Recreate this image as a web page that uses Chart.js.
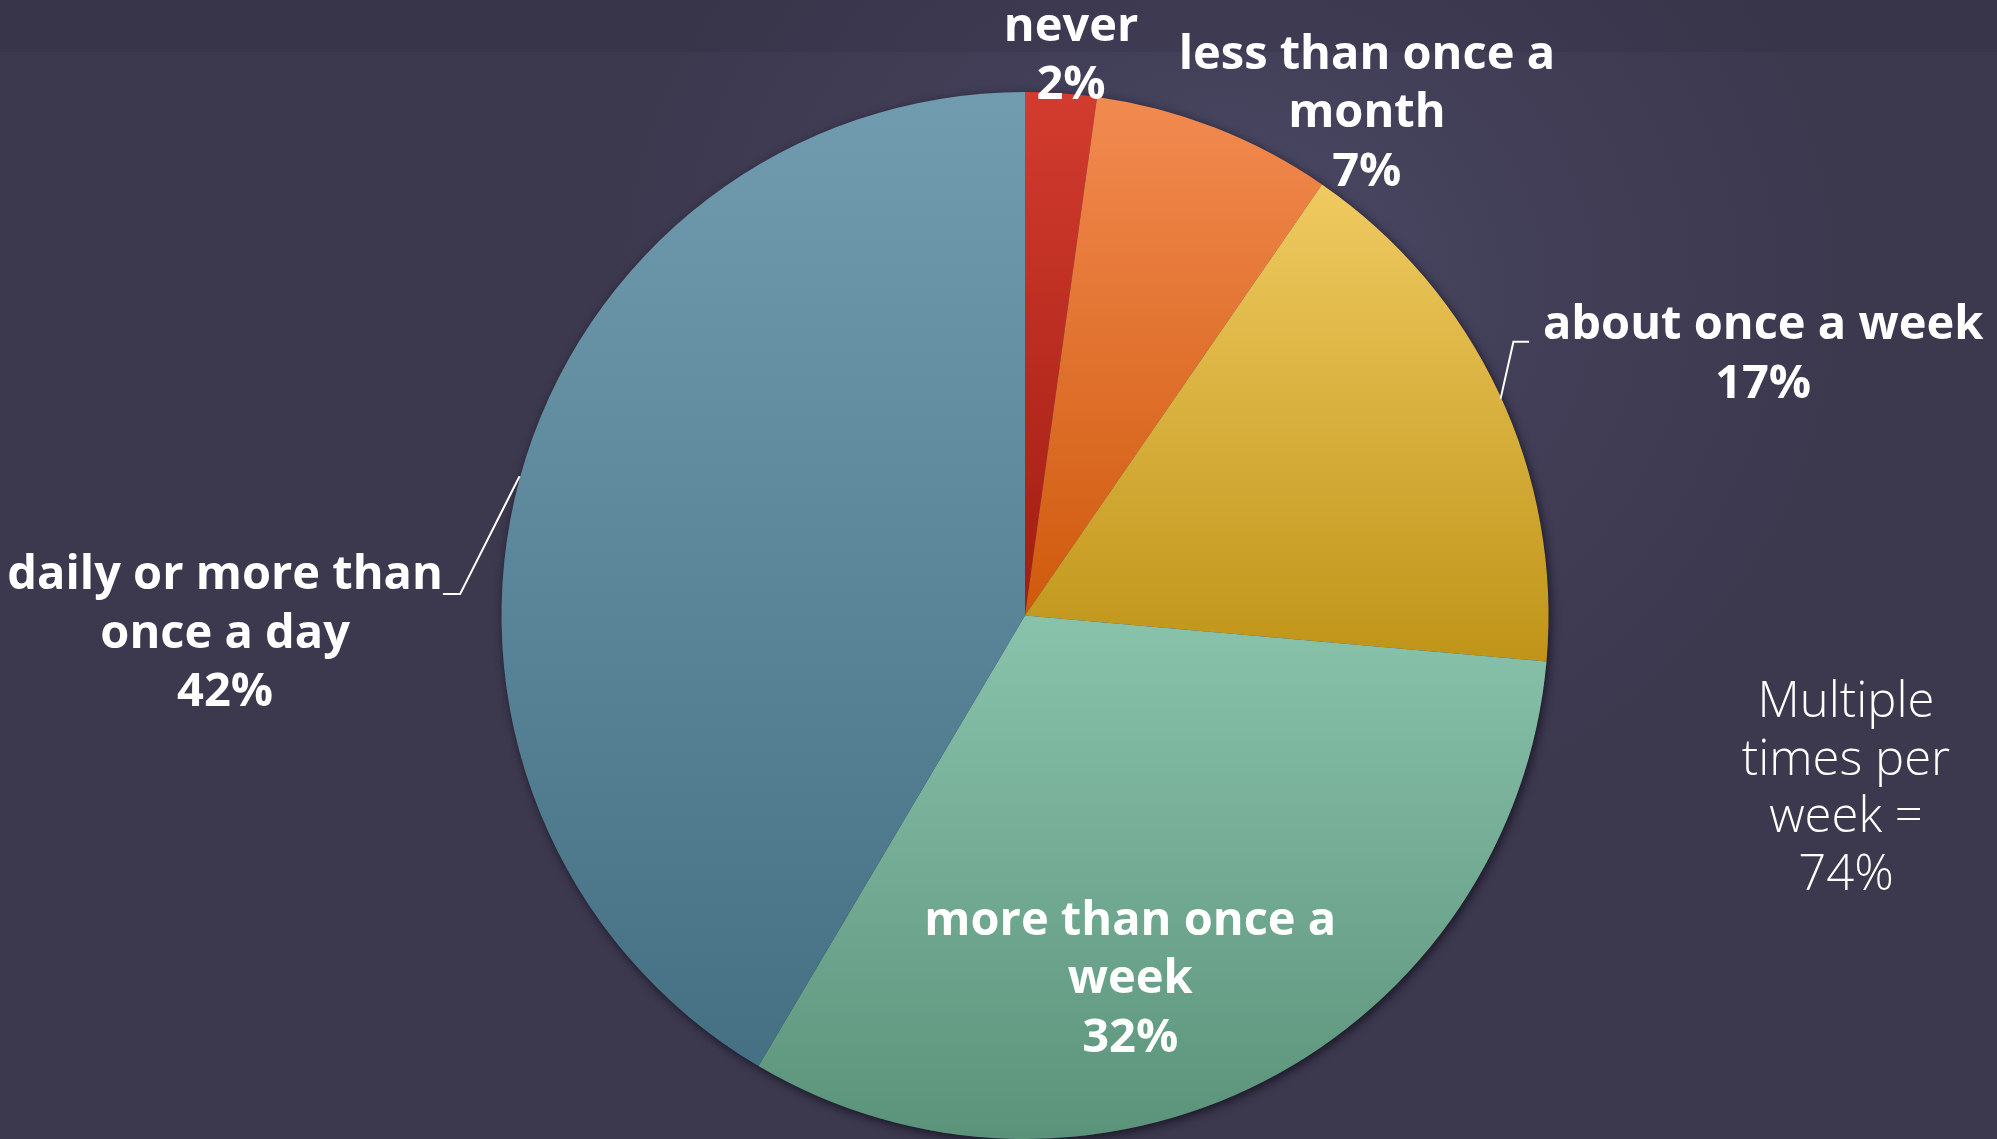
<!DOCTYPE html>
<html>
<head>
<meta charset="utf-8">
<script src="https://cdn.jsdelivr.net/npm/chart.js@4"></script>
<style>
  html, body { margin: 0; padding: 0; }
  body {
    width: 1997px; height: 1139px; overflow: hidden; position: relative;
    background:
      linear-gradient(to bottom, rgba(20,16,32,0.10) 0px, rgba(20,16,32,0.10) 52px, rgba(0,0,0,0) 52px),
      radial-gradient(ellipse 620px 560px at 1230px 290px, rgba(80,78,108,0.85) 0%, rgba(72,70,98,0.5) 45%, rgba(60,56,78,0) 100%),
      #3c384e;
  }
  #wrap { position: absolute; left: 0; top: 0; width: 1997px; height: 1139px; }
  #note {
    position: absolute; left: 1696px; top: 670px; width: 300px;
    color: #ffffff; font-family: "Open Sans", "Lato", sans-serif; font-weight: 300;
    font-size: 49px; line-height: 57.5px; text-align: center;
  }
</style>
</head>
<body>
<div id="wrap"><canvas id="c" width="1997" height="1139"></canvas></div>
<div id="note">Multiple<br>times per<br>week =<br>74%</div>
<script>
// ---- data ----
const categories = ['never', 'less than once a month', 'about once a week', 'more than once a week', 'daily or more than once a day'];
const values = [2.2, 7.4, 16.8, 32.1, 41.5];
const labelLines = [['never'], ['less than once a', 'month'], ['about once a week'], ['more than once a', 'week'], ['daily or more than', 'once a day']];

// ---- styling / layout (not data) ----
const gradTop    = ['#d23c2e', '#f28a50', '#efca60', '#8ac3ab', '#719cb0'];
const gradBottom = ['#a11d12', '#cf5a0c', '#bf9418', '#5a937a', '#456f82'];
// label block centres relative to pie centre, in radius units
const labelPos = [[0.088, -1.068], [0.653, -0.958], [1.41, -0.497], [0.201, 0.696], [-1.528, 0.036]];
// leader polylines in radius units (null = none)
const leaders = [null, null,
  [[0.9085, -0.4143], [0.933, -0.5228], [0.963, -0.5228]],
  null,
  [[-0.9655, -0.266], [-1.079, -0.041], [-1.112, -0.041]]];

function inRange(a, s, e) {
  const TAU = Math.PI * 2;
  let x = a;
  while (x < s) x += TAU;
  return x <= e;
}

const gradientPlugin = {
  id: 'sliceGradient',
  beforeDatasetsDraw(chart) {
    const ctx = chart.ctx;
    const meta = chart.getDatasetMeta(0);
    if (meta.data.length) {
      const a0 = meta.data[0];
      ctx.save();
      ctx.shadowColor = 'rgba(15,12,25,0.75)';
      ctx.shadowBlur = 10;
      ctx.shadowOffsetX = 2;
      ctx.shadowOffsetY = 3;
      ctx.fillStyle = '#3c384e';
      ctx.beginPath();
      ctx.arc(a0.x, a0.y, a0.outerRadius, 0, Math.PI * 2);
      ctx.fill();
      ctx.restore();
    }
    meta.data.forEach((arc, i) => {
      const { x, y, startAngle, endAngle, outerRadius } = arc.getProps(['x', 'y', 'startAngle', 'endAngle', 'outerRadius'], true);
      const ys = [y, y + Math.sin(startAngle) * outerRadius, y + Math.sin(endAngle) * outerRadius];
      if (inRange(-Math.PI / 2, startAngle, endAngle)) ys.push(y - outerRadius);
      if (inRange(Math.PI / 2, startAngle, endAngle)) ys.push(y + outerRadius);
      const y0 = Math.min(...ys), y1 = Math.max(...ys);
      const g = ctx.createLinearGradient(0, y0, 0, y1);
      g.addColorStop(0, gradTop[i]);
      g.addColorStop(1, gradBottom[i]);
      arc.options.backgroundColor = g;
    });
  }
};

const labelPlugin = {
  id: 'sliceLabels',
  afterDatasetsDraw(chart) {
    const ctx = chart.ctx;
    const meta = chart.getDatasetMeta(0);
    const lh = 58.5;
    ctx.save();
    ctx.fillStyle = '#ffffff';
    ctx.strokeStyle = '#ffffff';
    ctx.lineWidth = 2;
    ctx.textAlign = 'center';
    ctx.textBaseline = 'middle';
    ctx.font = 'bold 47px "Open Sans", "Lato", sans-serif';
    meta.data.forEach((arc, i) => {
      const cx = arc.x, cy = arc.y, r = arc.outerRadius;
      const lines = labelLines[i].concat([Math.round(values[i]) + '%']);
      const bx = cx + labelPos[i][0] * r;
      const by = cy + labelPos[i][1] * r;
      const top = by - (lines.length - 1) * lh / 2;
      lines.forEach((t, k) => ctx.fillText(t, bx, top + k * lh));
      if (leaders[i]) {
        ctx.beginPath();
        leaders[i].forEach((p, k) => {
          const px = cx + p[0] * r, py = cy + p[1] * r;
          if (k === 0) ctx.moveTo(px, py); else ctx.lineTo(px, py);
        });
        ctx.stroke();
      }
    });
    ctx.restore();
  }
};

new Chart(document.getElementById('c'), {
  type: 'pie',
  data: {
    labels: categories,
    datasets: [{
      data: values,
      backgroundColor: gradTop,
      borderWidth: 0
    }]
  },
  options: {
    responsive: false,
    animation: false,
    layout: { padding: { left: 53, right: 0, top: 92, bottom: 0 } },
    plugins: { legend: { display: false }, tooltip: { enabled: false } }
  },
  plugins: [gradientPlugin, labelPlugin]
});
</script>
</body>
</html>
